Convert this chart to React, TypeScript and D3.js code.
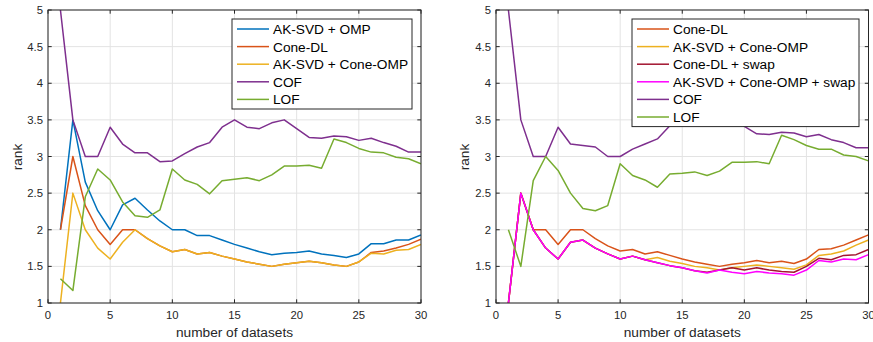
import React from "react";
import * as d3 from "d3";

const datasets = [1,2,3,4,5,6,7,8,9,10,11,12,13,14,15,16,17,18,19,20,21,22,23,24,25,26,27,28,29,30];
const xTicks = [0, 5, 10, 15, 20, 25, 30];
const yTicks = [1, 1.5, 2, 2.5, 3, 3.5, 4, 4.5, 5];

// Left panel
const akSvdOmpL = [2.0,3.5,2.65,2.26,2.0,2.34,2.43,2.27,2.12,2.0,2.0,1.92,1.92,1.86,1.8,1.75,1.7,1.66,1.68,1.69,1.71,1.67,1.65,1.62,1.67,1.81,1.81,1.86,1.86,1.93];
const coneDlL = [2.0,3.0,2.33,2.0,1.8,2.0,2.0,1.88,1.78,1.7,1.73,1.67,1.69,1.64,1.6,1.56,1.53,1.5,1.53,1.55,1.57,1.55,1.52,1.5,1.56,1.69,1.71,1.75,1.8,1.87];
const akConeOmpL = [1.0,2.5,2.0,1.75,1.6,1.83,2.0,1.88,1.78,1.7,1.73,1.67,1.69,1.64,1.6,1.56,1.53,1.5,1.53,1.55,1.57,1.55,1.52,1.5,1.56,1.68,1.67,1.72,1.73,1.8];
const cofL = [5.0,3.5,3.0,3.0,3.4,3.17,3.05,3.05,2.93,2.94,3.04,3.13,3.19,3.4,3.5,3.4,3.38,3.46,3.5,3.38,3.26,3.25,3.28,3.27,3.22,3.25,3.19,3.14,3.06,3.06];
const lofL = [1.33,1.17,2.45,2.83,2.68,2.38,2.19,2.17,2.27,2.83,2.68,2.62,2.49,2.67,2.69,2.71,2.67,2.75,2.87,2.87,2.88,2.84,3.24,3.19,3.11,3.06,3.05,2.99,2.97,2.9];

// Right panel
const coneDlR = [1.0,2.5,2.0,2.0,1.8,2.0,2.0,1.88,1.78,1.71,1.73,1.67,1.7,1.65,1.6,1.56,1.53,1.5,1.53,1.55,1.58,1.55,1.57,1.54,1.6,1.73,1.74,1.79,1.86,1.93];
const akConeOmpR = [1.0,2.5,2.0,1.75,1.6,1.83,1.86,1.75,1.67,1.6,1.64,1.59,1.62,1.57,1.54,1.5,1.48,1.45,1.48,1.5,1.52,1.5,1.48,1.46,1.52,1.65,1.67,1.71,1.79,1.86];
const coneDlSwapR = [1.0,2.5,2.0,1.75,1.6,1.83,1.86,1.75,1.67,1.6,1.64,1.59,1.55,1.51,1.48,1.44,1.42,1.45,1.48,1.45,1.48,1.45,1.43,1.42,1.5,1.61,1.59,1.65,1.66,1.73];
const akConeOmpSwapR = [1.0,2.5,2.0,1.75,1.6,1.83,1.86,1.75,1.67,1.6,1.64,1.59,1.55,1.51,1.48,1.44,1.41,1.45,1.42,1.4,1.43,1.41,1.4,1.38,1.45,1.58,1.56,1.6,1.59,1.66];
const cofR = [5.0,3.5,3.0,3.0,3.4,3.17,3.15,3.13,3.0,3.0,3.1,3.17,3.24,3.42,3.55,3.45,3.43,3.5,3.55,3.41,3.31,3.3,3.33,3.32,3.27,3.3,3.23,3.19,3.12,3.12];
const lofR = [2.0,1.5,2.67,3.0,2.81,2.5,2.29,2.26,2.33,2.9,2.74,2.68,2.58,2.76,2.77,2.79,2.74,2.8,2.92,2.92,2.93,2.9,3.29,3.23,3.15,3.1,3.1,3.02,3.0,2.94];

const leftNames = ["AK-SVD + OMP", "Cone-DL", "AK-SVD + Cone-OMP", "COF", "LOF"];
const leftColors = ["#0072BD", "#D95319", "#EDB120", "#7E2F8E", "#77AC30"];
const rightNames = ["Cone-DL", "AK-SVD + Cone-OMP", "Cone-DL + swap", "AK-SVD + Cone-OMP + swap", "COF", "LOF"];
const rightColors = ["#D95319", "#EDB120", "#A2142F", "#FF00FF", "#7E2F8E", "#77AC30"];

const FONT = "'Liberation Sans', Arial, Helvetica, sans-serif";
const AX = "#262626";

type PanelProps = {
  id: string;
  x0: number;
  x1: number;
  series: number[][];
  names: string[];
  colors: string[];
  legend: { x: number; w: number };
  labelX: number;
};

function Panel({ id, x0, x1, series, names, colors, legend, labelX }: PanelProps) {
  const top = 10, bottom = 303;
  const x = d3.scaleLinear().domain([0, 30]).range([x0, x1]);
  const y = d3.scaleLinear().domain([1, 5]).range([bottom, top]);
  const line = d3.line<number>().x((_, i) => x(datasets[i])).y((v) => y(v));
  const tl = 3.7;
  const rowH = 17.6;
  const legTop = 19;
  const legH = names.length * rowH + 2;
  return (
    <g>
      <defs>
        <clipPath id={id}>
          <rect x={x0} y={top} width={x1 - x0} height={bottom - top} />
        </clipPath>
      </defs>
      <rect x={x0} y={top} width={x1 - x0} height={bottom - top} fill="#fff" />
      {xTicks.map((t) => (
        <line key={"gx" + t} x1={x(t)} x2={x(t)} y1={top} y2={bottom} stroke="#e3e3e3" strokeWidth={1} />
      ))}
      {yTicks.map((t) => (
        <line key={"gy" + t} x1={x0} x2={x1} y1={y(t)} y2={y(t)} stroke="#e3e3e3" strokeWidth={1} />
      ))}
      <g clipPath={`url(#${id})`}>
        {series.map((s, i) => (
          <path key={i} d={line(s) || ""} fill="none" stroke={colors[i]} strokeWidth={1.5} strokeLinejoin="round" />
        ))}
      </g>
      <rect x={x0} y={top} width={x1 - x0} height={bottom - top} fill="none" stroke={AX} strokeWidth={1} />
      {xTicks.map((t) => (
        <g key={"tx" + t}>
          <line x1={x(t)} x2={x(t)} y1={bottom} y2={bottom - tl} stroke={AX} />
          <line x1={x(t)} x2={x(t)} y1={top} y2={top + tl} stroke={AX} />
          <text x={x(t)} y={319} textAnchor="middle" fontSize={11.3} fill={AX} fontFamily={FONT}>{t}</text>
        </g>
      ))}
      {yTicks.map((t) => (
        <g key={"ty" + t}>
          <line x1={x0} x2={x0 + tl} y1={y(t)} y2={y(t)} stroke={AX} />
          <line x1={x1} x2={x1 - tl} y1={y(t)} y2={y(t)} stroke={AX} />
          <text x={x0 - 5} y={y(t) + 4} textAnchor="end" fontSize={11.3} fill={AX} fontFamily={FONT}>{t}</text>
        </g>
      ))}
      <text x={(x0 + x1) / 2} y={337} textAnchor="middle" fontSize={13.7} fill={AX} fontFamily={FONT}>number of datasets</text>
      <text transform={`translate(${labelX},157) rotate(-90)`} textAnchor="middle" fontSize={13.7} fill={AX} fontFamily={FONT}>rank</text>
      <rect x={legend.x} y={legTop} width={legend.w} height={legH} fill="#fff" stroke={AX} strokeWidth={1} />
      {names.map((n, i) => {
        const cy = legTop + 10 + i * rowH;
        return (
          <g key={n}>
            <line x1={legend.x + 5} x2={legend.x + 37} y1={cy} y2={cy} stroke={colors[i]} strokeWidth={1.5} />
            <text x={legend.x + 41} y={cy + 5} fontSize={13.7} fill="#000" fontFamily={FONT}>{n}</text>
          </g>
        );
      })}
    </g>
  );
}

export default function App() {
  return (
    <svg width={873} height={342} style={{ position: "absolute", left: 0, top: 0, background: "#fff" }}>
      <rect width={873} height={342} fill="#fff" />
      <Panel
        id="clipL"
        x0={48}
        x1={421}
        series={[akSvdOmpL, coneDlL, akConeOmpL, cofL, lofL]}
        names={leftNames}
        colors={leftColors}
        legend={{ x: 232, w: 180 }}
        labelX={22}
      />
      <Panel
        id="clipR"
        x0={496}
        x1={868.5}
        series={[coneDlR, akConeOmpR, coneDlSwapR, akConeOmpSwapR, cofR, lofR]}
        names={rightNames}
        colors={rightColors}
        legend={{ x: 632, w: 227 }}
        labelX={469}
      />
    </svg>
  );
}
